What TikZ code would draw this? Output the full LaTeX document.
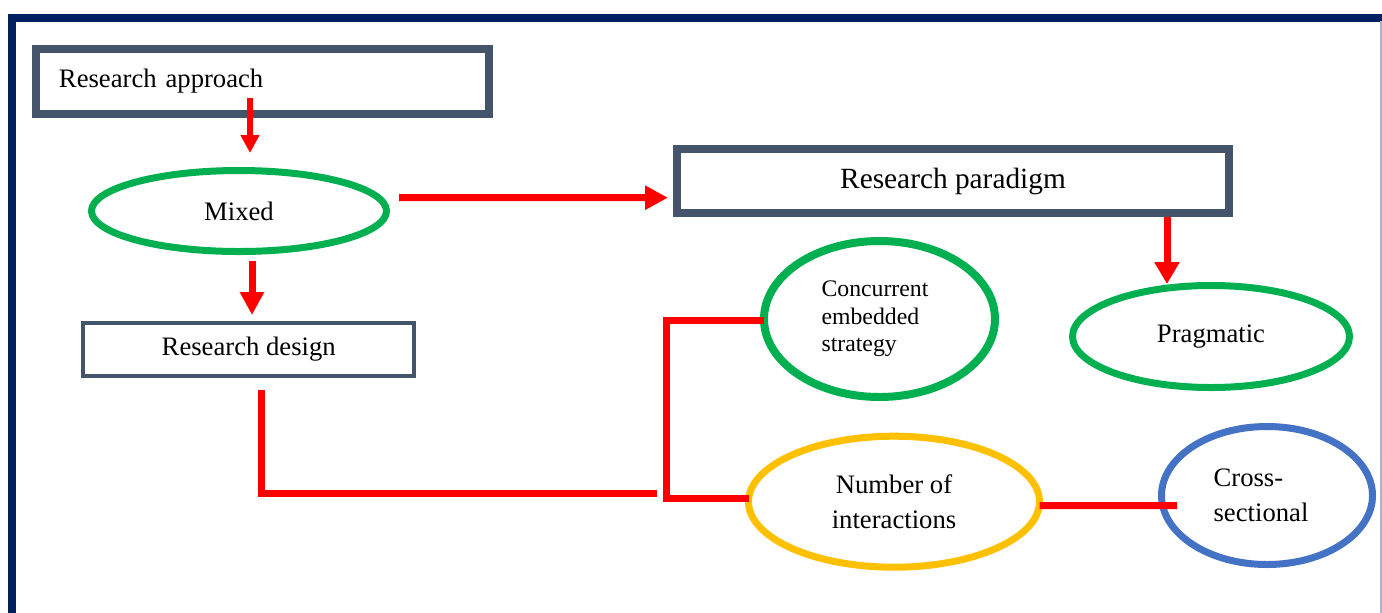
\documentclass[tikz,border=0pt]{standalone}
\usepackage{fontspec}
\setmainfont{Liberation Serif}
\usetikzlibrary{shapes.geometric,arrows.meta,calc}

\definecolor{slate}{HTML}{44546A}
\definecolor{leaf}{HTML}{00B050}
\definecolor{amber}{HTML}{FFC000}
\definecolor{azure}{HTML}{4472C4}
\definecolor{navy}{HTML}{002060}
\definecolor{edge}{HTML}{A9B4CB}
\definecolor{flow}{HTML}{FF0000}

\newcommand\txtmain{\fontsize{20pt}{26.25pt}\selectfont}
\newcommand\txtbig{\fontsize{22pt}{26pt}\selectfont}
\newcommand\txtsmall{\fontsize{17.8pt}{20.6pt}\selectfont}

\tikzset{
  box/.style={draw=slate, rectangle, inner sep=0pt, outer sep=0pt, font=\txtmain},
  oval/.style={ellipse, inner sep=0pt, outer sep=0pt, line width=5.25pt, font=\txtmain, align=center},
  arr/.style={draw=flow, line width=5.25pt, -{Triangle[length=17.25pt,width=17.25pt]}},
  link/.style={draw=flow, line width=5.25pt, line join=miter},
}

\begin{document}
\begin{tikzpicture}[x=0.75pt, y=-0.75pt]
  \useasboundingbox (0,0) rectangle (1382,612);
  \clip (0,0) rectangle (1382,612);

  % page frame
  \draw[navy, line width=6pt, line join=miter] (11.5,640) -- (11.5,17.5) -- (1400,17.5);
  \draw[edge, line width=1.2pt] (1381,21) -- (1381,640);

  % boxes
  \node[box, line width=6pt, minimum height=48.75pt, text width=304.9pt,
        inner xsep=17.6pt, align=left] (ra) at (262.25,81) {Research approach};
  \node[box, line width=6pt, minimum width=414pt, minimum height=48pt,
        font=\txtbig] (rp) at (953,181) {Research paradigm};
  \node[box, line width=3pt, minimum width=247.9pt, minimum height=40.1pt] (rd)
        at (248.75,349.25) {Research design};

  % ellipses
  \node[oval, draw=leaf, minimum width=221.25pt, minimum height=60.75pt] (mixed)
        at (239,211) {Mixed};
  \node[oval, draw=leaf, minimum width=207.75pt, minimum height=76.5pt] (prag)
        at (1211,336.5) {Pragmatic};
  \node[oval, draw=leaf, line width=6pt, minimum width=173.25pt, minimum height=117pt,
        font=\txtsmall, align=left] (conc) at (879.5,319)
        {Concurrent\hspace*{6.75pt}\\embedded\\strategy};
  \node[oval, draw=amber, minimum width=218.25pt, minimum height=98.25pt] (num)
        at (894,501.7) {Number of\\interactions};
  \node[oval, draw=azure, minimum width=158.25pt, minimum height=103.5pt, align=left] (cross)
        at (1267,495.5) {Cross-\\sectional\hspace*{9pt}};

  % arrows
  \draw[arr, line width=4.5pt, -{Triangle[length=13.5pt,width=13.5pt]}]
        ($(ra.south)+(-12.25,-15.5)$) -- ($(mixed.north)+(11,-17.5)$);
  \draw[arr] ($(mixed.east)+(12.5,-13.3)$) -- ($(rp.west)+(-9,16.7)$);
  \draw[arr, -{Triangle[length=16.5pt,width=18pt]}]
        ($(rp.south east)+(-62,4)$) -- ($(prag.north)+(-44,-1.5)$);
  \draw[arr] ($(mixed.south)+(13,9.5)$) -- ($(rd.north)+(3.25,-7.5)$);

  % connecting lines
  \coordinate (joint) at (657,493.5);
  \coordinate (bk) at (666.5,320);
  \draw[link] ($(rd.south)+(12.25,14)$) |- (joint);
  \draw[link] ($(conc.west)+(0,1)$) -- (bk) |- ($(num.west)+(0,-3.2)$);
  \draw[link] ($(num.east)+(0,3.8)$) -- ($(cross.west)+(15.5,10)$);
\end{tikzpicture}
\end{document}
